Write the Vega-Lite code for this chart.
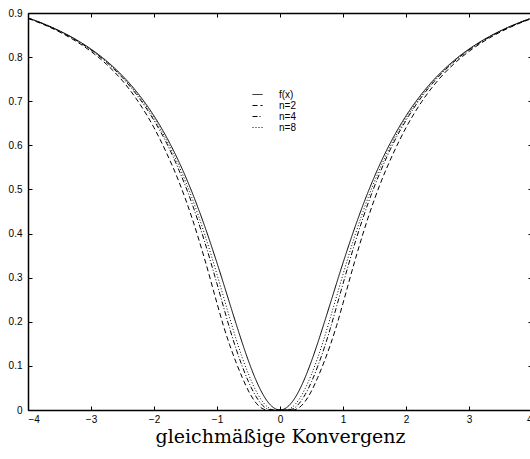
{
  "$schema": "https://vega.github.io/schema/vega-lite/v6.json",
  "autosize": "none",
  "width": 504,
  "height": 397,
  "padding": {"left": 28, "top": 13, "right": 0, "bottom": 49},
  "background": "white",
  "config": {
    "view": {"stroke": "black", "strokeWidth": 1},
    "axis": {"labelFont": "Liberation Sans", "labelFontSize": 10, "labelColor": "black", "domainColor": "black", "domainWidth": 1.5, "tickColor": "black", "tickSize": -4, "tickWidth": 1, "grid": false}
  },
  "data": {"values": [
    {"c":"f(x)","x":-4,"y":0.8889},{"c":"f(x)","x":-3.75,"y":0.8755},{"c":"f(x)","x":-3.5,"y":0.8596},{"c":"f(x)","x":-3.25,"y":0.8408},{"c":"f(x)","x":-3,"y":0.8182},{"c":"f(x)","x":-2.75,"y":0.7908},{"c":"f(x)","x":-2.5,"y":0.7576},{"c":"f(x)","x":-2.25,"y":0.7168},{"c":"f(x)","x":-2,"y":0.6667},{"c":"f(x)","x":-1.8,"y":0.6183},{"c":"f(x)","x":-1.6,"y":0.5614},{"c":"f(x)","x":-1.4,"y":0.4949},{"c":"f(x)","x":-1.2,"y":0.4186},{"c":"f(x)","x":-1,"y":0.3333},{"c":"f(x)","x":-0.9,"y":0.2883},{"c":"f(x)","x":-0.8,"y":0.2424},{"c":"f(x)","x":-0.7,"y":0.1968},{"c":"f(x)","x":-0.6,"y":0.1525},{"c":"f(x)","x":-0.5,"y":0.1111},{"c":"f(x)","x":-0.4,"y":0.0741},{"c":"f(x)","x":-0.3,"y":0.0431},{"c":"f(x)","x":-0.2,"y":0.0196},{"c":"f(x)","x":-0.1,"y":0.005},{"c":"f(x)","x":0,"y":0},
    {"c":"f(x)","x":0.1,"y":0.005},{"c":"f(x)","x":0.2,"y":0.0196},{"c":"f(x)","x":0.3,"y":0.0431},{"c":"f(x)","x":0.4,"y":0.0741},{"c":"f(x)","x":0.5,"y":0.1111},{"c":"f(x)","x":0.6,"y":0.1525},{"c":"f(x)","x":0.7,"y":0.1968},{"c":"f(x)","x":0.8,"y":0.2424},{"c":"f(x)","x":0.9,"y":0.2883},{"c":"f(x)","x":1,"y":0.3333},{"c":"f(x)","x":1.2,"y":0.4186},{"c":"f(x)","x":1.4,"y":0.4949},{"c":"f(x)","x":1.6,"y":0.5614},{"c":"f(x)","x":1.8,"y":0.6183},{"c":"f(x)","x":2,"y":0.6667},{"c":"f(x)","x":2.25,"y":0.7168},{"c":"f(x)","x":2.5,"y":0.7576},{"c":"f(x)","x":2.75,"y":0.7908},{"c":"f(x)","x":3,"y":0.8182},{"c":"f(x)","x":3.25,"y":0.8408},{"c":"f(x)","x":3.5,"y":0.8596},{"c":"f(x)","x":3.75,"y":0.8755},{"c":"f(x)","x":4,"y":0.8889},

    {"c":"n=2","x":-4,"y":0.8876},{"c":"n=2","x":-3.75,"y":0.8737},{"c":"n=2","x":-3.5,"y":0.857},{"c":"n=2","x":-3.25,"y":0.837},{"c":"n=2","x":-3,"y":0.8129},{"c":"n=2","x":-2.75,"y":0.7832},{"c":"n=2","x":-2.5,"y":0.7462},{"c":"n=2","x":-2.25,"y":0.699},{"c":"n=2","x":-2,"y":0.64},{"c":"n=2","x":-1.8,"y":0.5824},{"c":"n=2","x":-1.6,"y":0.516},{"c":"n=2","x":-1.4,"y":0.4366},{"c":"n=2","x":-1.2,"y":0.344},{"c":"n=2","x":-1,"y":0.242},{"c":"n=2","x":-0.9,"y":0.192},{"c":"n=2","x":-0.8,"y":0.148},{"c":"n=2","x":-0.7,"y":0.109},{"c":"n=2","x":-0.6,"y":0.074},{"c":"n=2","x":-0.5,"y":0.0431},{"c":"n=2","x":-0.4,"y":0.0196},{"c":"n=2","x":-0.3,"y":0.005},{"c":"n=2","x":-0.2,"y":0},{"c":"n=2","x":-0.1,"y":0},{"c":"n=2","x":0,"y":0},
    {"c":"n=2","x":0.1,"y":0},{"c":"n=2","x":0.2,"y":0},{"c":"n=2","x":0.3,"y":0.005},{"c":"n=2","x":0.4,"y":0.0196},{"c":"n=2","x":0.5,"y":0.0431},{"c":"n=2","x":0.6,"y":0.074},{"c":"n=2","x":0.7,"y":0.109},{"c":"n=2","x":0.8,"y":0.148},{"c":"n=2","x":0.9,"y":0.192},{"c":"n=2","x":1,"y":0.242},{"c":"n=2","x":1.2,"y":0.344},{"c":"n=2","x":1.4,"y":0.4366},{"c":"n=2","x":1.6,"y":0.516},{"c":"n=2","x":1.8,"y":0.5824},{"c":"n=2","x":2,"y":0.64},{"c":"n=2","x":2.25,"y":0.699},{"c":"n=2","x":2.5,"y":0.7462},{"c":"n=2","x":2.75,"y":0.7832},{"c":"n=2","x":3,"y":0.8129},{"c":"n=2","x":3.25,"y":0.837},{"c":"n=2","x":3.5,"y":0.857},{"c":"n=2","x":3.75,"y":0.8737},{"c":"n=2","x":4,"y":0.8876},

    {"c":"n=4","x":-4,"y":0.8884},{"c":"n=4","x":-3.75,"y":0.8748},{"c":"n=4","x":-3.5,"y":0.8587},{"c":"n=4","x":-3.25,"y":0.8394},{"c":"n=4","x":-3,"y":0.8162},{"c":"n=4","x":-2.75,"y":0.7878},{"c":"n=4","x":-2.5,"y":0.7531},{"c":"n=4","x":-2.25,"y":0.71},{"c":"n=4","x":-2,"y":0.6565},{"c":"n=4","x":-1.8,"y":0.605},{"c":"n=4","x":-1.6,"y":0.5425},{"c":"n=4","x":-1.4,"y":0.4693},{"c":"n=4","x":-1.2,"y":0.3834},{"c":"n=4","x":-1,"y":0.286},{"c":"n=4","x":-0.9,"y":0.2356},{"c":"n=4","x":-0.8,"y":0.1855},{"c":"n=4","x":-0.7,"y":0.1398},{"c":"n=4","x":-0.6,"y":0.0995},{"c":"n=4","x":-0.5,"y":0.064},{"c":"n=4","x":-0.4,"y":0.0352},{"c":"n=4","x":-0.3,"y":0.0142},{"c":"n=4","x":-0.2,"y":0.0024},{"c":"n=4","x":-0.1,"y":0},{"c":"n=4","x":0,"y":0},
    {"c":"n=4","x":0.1,"y":0},{"c":"n=4","x":0.2,"y":0.0024},{"c":"n=4","x":0.3,"y":0.0142},{"c":"n=4","x":0.4,"y":0.0352},{"c":"n=4","x":0.5,"y":0.064},{"c":"n=4","x":0.6,"y":0.0995},{"c":"n=4","x":0.7,"y":0.1398},{"c":"n=4","x":0.8,"y":0.1855},{"c":"n=4","x":0.9,"y":0.2356},{"c":"n=4","x":1,"y":0.286},{"c":"n=4","x":1.2,"y":0.3834},{"c":"n=4","x":1.4,"y":0.4693},{"c":"n=4","x":1.6,"y":0.5425},{"c":"n=4","x":1.8,"y":0.605},{"c":"n=4","x":2,"y":0.6565},{"c":"n=4","x":2.25,"y":0.71},{"c":"n=4","x":2.5,"y":0.7531},{"c":"n=4","x":2.75,"y":0.7878},{"c":"n=4","x":3,"y":0.8162},{"c":"n=4","x":3.25,"y":0.8394},{"c":"n=4","x":3.5,"y":0.8587},{"c":"n=4","x":3.75,"y":0.8748},{"c":"n=4","x":4,"y":0.8884},

    {"c":"n=8","x":-4,"y":0.8887},{"c":"n=8","x":-3.75,"y":0.8751},{"c":"n=8","x":-3.5,"y":0.8592},{"c":"n=8","x":-3.25,"y":0.8401},{"c":"n=8","x":-3,"y":0.8172},{"c":"n=8","x":-2.75,"y":0.7894},{"c":"n=8","x":-2.5,"y":0.7554},{"c":"n=8","x":-2.25,"y":0.7135},{"c":"n=8","x":-2,"y":0.6617},{"c":"n=8","x":-1.8,"y":0.6117},{"c":"n=8","x":-1.6,"y":0.552},{"c":"n=8","x":-1.4,"y":0.4819},{"c":"n=8","x":-1.2,"y":0.4001},{"c":"n=8","x":-1,"y":0.3074},{"c":"n=8","x":-0.9,"y":0.2585},{"c":"n=8","x":-0.8,"y":0.2095},{"c":"n=8","x":-0.7,"y":0.1621},{"c":"n=8","x":-0.6,"y":0.1191},{"c":"n=8","x":-0.5,"y":0.0811},{"c":"n=8","x":-0.4,"y":0.0487},{"c":"n=8","x":-0.3,"y":0.0236},{"c":"n=8","x":-0.2,"y":0.0072},{"c":"n=8","x":-0.1,"y":0.0002},{"c":"n=8","x":0,"y":0},
    {"c":"n=8","x":0.1,"y":0.0002},{"c":"n=8","x":0.2,"y":0.0072},{"c":"n=8","x":0.3,"y":0.0236},{"c":"n=8","x":0.4,"y":0.0487},{"c":"n=8","x":0.5,"y":0.0811},{"c":"n=8","x":0.6,"y":0.1191},{"c":"n=8","x":0.7,"y":0.1621},{"c":"n=8","x":0.8,"y":0.2095},{"c":"n=8","x":0.9,"y":0.2585},{"c":"n=8","x":1,"y":0.3074},{"c":"n=8","x":1.2,"y":0.4001},{"c":"n=8","x":1.4,"y":0.4819},{"c":"n=8","x":1.6,"y":0.552},{"c":"n=8","x":1.8,"y":0.6117},{"c":"n=8","x":2,"y":0.6617},{"c":"n=8","x":2.25,"y":0.7135},{"c":"n=8","x":2.5,"y":0.7554},{"c":"n=8","x":2.75,"y":0.7894},{"c":"n=8","x":3,"y":0.8172},{"c":"n=8","x":3.25,"y":0.8401},{"c":"n=8","x":3.5,"y":0.8592},{"c":"n=8","x":3.75,"y":0.8751},{"c":"n=8","x":4,"y":0.8887}
  ]},
  "layer": [
    {
      "mark": {"type": "line", "color": "black", "strokeWidth": 1, "interpolate": "monotone", "clip": true},
      "encoding": {
        "x": {"field": "x", "type": "quantitative", "scale": {"domain": [-4, 4], "nice": false, "zero": false},
          "axis": {"orient": "bottom", "values": [-4,-3,-2,-1,0,1,2,3,4], "labelPadding": 8, "title": "gleichmäßige Konvergenz", "titleFont": "DejaVu Serif", "titleFontSize": 19, "titleFontWeight": "normal", "titleColor": "black", "titlePadding": 3}},
        "y": {"field": "y", "type": "quantitative", "scale": {"domain": [0, 0.9], "nice": false},
          "axis": {"orient": "left", "values": [0,0.1,0.2,0.3,0.4,0.5,0.6,0.7,0.8,0.9], "labelExpr": "datum.value == 0 ? '0' : format(datum.value, '.1f')", "labelPadding": 10, "title": null}},
        "strokeDash": {"field": "c", "type": "nominal",
          "scale": {"domain": ["f(x)", "n=2", "n=4", "n=8"], "range": [[1,0],[5,3],[5,2,1,2],[1,2]]},
          "legend": {"title": null, "orient": "none", "legendX": 224, "legendY": 76, "symbolType": "stroke", "symbolStrokeColor": "black", "symbolStrokeWidth": 1, "symbolSize": 100, "labelFont": "Liberation Sans", "labelFontSize": 10, "labelColor": "black", "rowPadding": 0, "labelOffset": 16}}
      }
    },
    {
      "mark": {"type": "point", "opacity": 0},
      "encoding": {
        "x": {"field": "x", "type": "quantitative", "axis": {"orient": "top", "values": [-4,-3,-2,-1,0,1,2,3,4], "labels": false, "title": null}},
        "y": {"field": "y", "type": "quantitative", "axis": {"orient": "right", "values": [0,0.1,0.2,0.3,0.4,0.5,0.6,0.7,0.8,0.9], "labels": false, "title": null, "domainWidth": 1}}
      }
    }
  ],
  "resolve": {"axis": {"x": "independent", "y": "independent"}}
}
